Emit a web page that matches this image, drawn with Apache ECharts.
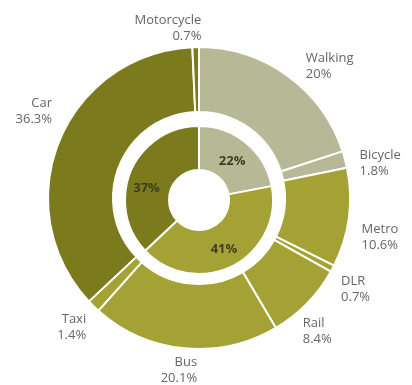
<!DOCTYPE html>
<html>
<head>
<meta charset="utf-8">
<script src="https://cdn.jsdelivr.net/npm/echarts@6/dist/echarts.min.js"></script>
<style>
  html, body { margin: 0; padding: 0; background: #fff; }
  #chart { width: 412px; height: 385px; }
</style>
</head>
<body>
<div id="chart"></div>
<script>
// Modal share of journeys, by mode (outer ring) and by group (inner ring)
const modes = ['Walking', 'Bicycle', 'Metro', 'DLR', 'Rail', 'Bus', 'Taxi', 'Car', 'Motorcycle'];
const modeShares = [20, 1.8, 10.6, 0.7, 8.4, 20.1, 1.4, 36.3, 0.7];
const modeGroup = [0, 0, 1, 1, 1, 1, 1, 2, 2];

const groups = ['Walking & cycling', 'Public transport', 'Private'];
const groupShares = [22, 41, 37];

const groupColors = ['#b7b996', '#a4a235', '#7b7a1d'];

// Small hand adjustments to where the labels sit, in pixels
const labelNudge = {
  Motorcycle: [12, -7],
  Walking: [5, 0],
  Bicycle: [-3, 7],
  Metro: [-5, 18],
  DLR: [-8, 15],
  Rail: [-19, 19],
  Bus: [20, 10],
  Taxi: [7, 13],
  Car: [10, -25]
};
const groupLabelNudge = [[-2, 4], [0, 0], [-2, 10]];

const chart = echarts.init(document.getElementById('chart'));

const outerData = modes.map((name, i) => ({
  name: name,
  value: modeShares[i],
  itemStyle: { color: groupColors[modeGroup[i]] }
}));

const innerData = groups.map((name, i) => ({
  name: name,
  value: groupShares[i],
  itemStyle: { color: groupColors[i] }
}));

const font = '"Open Sans", "Noto Sans", sans-serif';

chart.setOption({
  animation: false,
  series: [
    {
      type: 'pie',
      center: [199, 198],
      radius: [86, 151],
      startAngle: 90,
      clockwise: true,
      avoidLabelOverlap: true,
      itemStyle: { borderColor: '#ffffff', borderWidth: 2 },
      label: {
        show: true,
        position: 'outside',
        overflow: 'none',
        formatter: p => p.name + '\n' + p.value + '%',
        fontFamily: font,
        fontSize: 13,
        lineHeight: 16,
        color: '#666662',
        distanceToLabelLine: 2
      },
      labelLine: { show: false, length: 12, length2: 4 },
      labelLayout: params => {
        const n = labelNudge[modes[params.dataIndex]] || [0, 0];
        return { dx: n[0], dy: n[1] };
      },
      emphasis: { disabled: true },
      data: outerData
    },
    {
      type: 'pie',
      center: [199, 200],
      radius: [30, 74],
      startAngle: 90,
      clockwise: true,
      itemStyle: { borderColor: '#ffffff', borderWidth: 2 },
      label: {
        show: true,
        position: 'inside',
        formatter: p => p.value + '%',
        fontFamily: font,
        fontSize: 13,
        fontWeight: 'bold',
        color: '#3e3d22'
      },
      labelLine: { show: false },
      labelLayout: params => {
        const n = groupLabelNudge[params.dataIndex] || [0, 0];
        return { dx: n[0], dy: n[1] };
      },
      emphasis: { disabled: true },
      data: innerData
    }
  ]
});
</script>
</body>
</html>
